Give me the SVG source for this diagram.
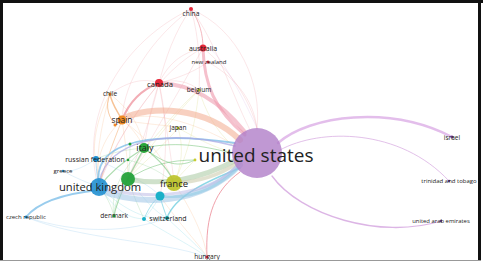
<svg xmlns="http://www.w3.org/2000/svg" width="483" height="264" viewBox="0 0 483 264">
<style>
text{font-family:"Open Sans","Noto Sans","Liberation Sans",sans-serif;fill:#222;text-anchor:middle}
.e{fill:none;stroke-linecap:round}
.f{stroke-width:0.6;opacity:0.35}
.red{stroke:#ec8a96}
.org{stroke:#f4a868}
.blu{stroke:#6eb6e6}
.grn{stroke:#6cc070}
.yel{stroke:#cfd060}
.cyn{stroke:#5cc8dc}
.pur{stroke:#d6a8e0}
.lav{stroke:#aaa6e2}
.sm{font-size:6.5px}
</style>
<rect x="0" y="0" width="483" height="264" fill="#fff"/>
<g id="connectors">
<path class="e f red" d="M191,9 C240,30 262,85 257,128"/>
<path class="e f red" d="M191,9 C125,40 80,110 97,182"/>
<path class="e f red" d="M191,9 C175,30 165,60 159,83"/>
<path class="e f red" d="M191,9 C150,40 125,80 122,118"/>
<path class="e f red" d="M191,9 C215,40 230,90 250,130"/>
<path class="e f red" d="M191,9 C200,40 200,70 199,90"/>
<path class="e f red" d="M208,62 C240,80 255,105 257,130"/>
<path class="e f red" d="M203,48 C230,70 250,100 257,128"/>
<path class="e f red" d="M203,48 C160,70 120,130 99,185"/>
<path class="e f red" d="M203,48 C180,90 150,140 128,179"/>
<path class="e f red" d="M159,83 C150,120 140,150 128,179"/>
<path class="e f red" d="M159,83 C130,120 105,160 99,187"/>
<path class="e f red" d="M159,83 C165,120 172,160 174,183"/>
<path class="e f red" d="M159,83 C150,110 147,130 144,148"/>
<path class="e f red" d="M159,83 C170,60 185,52 203,48"/>
<path class="e f red" d="M159,83 C175,78 190,82 199,90"/>
<path class="e f red" d="M110,94 C130,80 145,78 159,83"/>
<path class="e f red" d="M159,83 C170,130 165,170 160,196"/>
<path class="e f red" d="M208,62 C190,75 170,80 159,83"/>
<path class="e f org" d="M122,120 C100,140 95,165 99,185"/>
<path class="e f org" d="M122,120 C125,140 128,160 128,179"/>
<path class="e f org" d="M122,120 C135,130 140,140 144,148"/>
<path class="e f org" d="M122,120 C150,140 165,160 174,183"/>
<path class="e f org" d="M122,120 C150,125 170,125 178,128"/>
<path class="e f org" d="M110,94 C95,120 92,150 96,159"/>
<path class="e f org" d="M110,94 C130,110 140,125 144,148"/>
<path class="e f org" d="M110,94 C100,130 95,160 99,185"/>
<path class="e f org" d="M122,120 C150,110 190,120 235,145"/>
<path class="e f yel" d="M199,90 C205,110 215,130 232,145"/>
<path class="e f yel" d="M199,90 C195,130 185,160 174,183"/>
<path class="e f yel" d="M199,90 C175,110 155,140 144,148"/>
<path class="e f yel" d="M199,90 C170,120 140,160 128,179"/>
<path class="e f yel" d="M178,128 C185,150 180,170 174,183"/>
<path class="e f yel" d="M178,128 C200,140 215,148 232,152"/>
<path class="e f yel" d="M178,128 C160,150 140,165 128,179"/>
<path class="e f yel" d="M195,160 C185,170 180,175 174,183"/>
<path class="e f grn" d="M144,148 C120,170 110,195 114,216"/>
<path class="e f grn" d="M128,179 C118,195 114,205 114,216"/>
<path class="e f grn" d="M128,179 C135,200 140,210 144,219"/>
<path class="e f grn" d="M130,144 C130,160 129,170 128,179"/>
<path class="e f grn" d="M128,160 C150,165 165,175 174,183"/>
<path class="e f grn" d="M144,148 C120,150 105,155 96,159"/>
<path class="e f grn" d="M99,187 C110,200 112,210 114,216"/>
<path class="e f blu" d="M99,187 C80,180 70,175 63,171"/>
<path class="e f blu" d="M96,159 C80,170 70,172 63,171"/>
<path class="e f blu" d="M26,217 C80,235 130,232 167,218"/>
<path class="e f blu" d="M26,217 C80,240 160,240 207,257"/>
<path class="e f cyn" d="M144,219 C170,235 195,248 207,257"/>
<path class="e f cyn" d="M167,218 C185,235 200,248 207,257"/>
<path class="e f org" d="M160,196 C180,225 200,245 207,257"/>
<path class="e f org" d="M174,183 C195,215 205,240 207,257"/>
<path class="e f cyn" d="M99,187 C120,215 130,218 144,219"/>
<path class="e f cyn" d="M99,187 C130,215 150,220 167,218"/>
<path class="e f cyn" d="M160,196 C155,205 150,212 144,219"/>
<path class="e f cyn" d="M128,179 C145,200 155,212 167,218"/>
<path class="e f blu" d="M96,159 C130,175 150,185 160,196"/>
<path class="e f pur" d="M257,128 C230,70 210,40 203,48"/>
<path class="e red" stroke-width="1" opacity="0.6" d="M191,9 C200,22 203,35 203,48"/>
<path class="e red" stroke-width="2" opacity="0.7" d="M159,83 C140,90 128,105 122,120"/>
<path class="e org" stroke-width="1.4" opacity="0.7" d="M110,94 C112,105 118,112 122,120"/>
<path class="e org" stroke-width="1" opacity="0.6" d="M110,94 C104,108 110,118 115,125"/>
<path class="e org" stroke-width="1" opacity="0.5" d="M122,120 C112,145 105,165 99,185"/>
<path class="e grn" stroke-width="1.4" opacity="0.6" d="M144,148 C138,160 132,170 128,179"/>
<path class="e grn" stroke-width="1.2" opacity="0.55" d="M144,148 C160,160 170,172 174,183"/>
<path class="e grn" stroke-width="1.2" opacity="0.55" d="M144,148 C125,160 108,175 99,187"/>
<path class="e grn" stroke-width="1.2" opacity="0.55" d="M128,179 C120,195 116,205 114,216"/>
<path class="e grn" stroke-width="1" opacity="0.5" d="M144,148 C180,140 210,148 232,153"/>
<path class="e grn" stroke-width="1" opacity="0.5" d="M128,179 C150,165 170,160 195,160"/>
<path class="e grn" stroke-width="1" opacity="0.5" d="M144,148 C160,160 175,170 195,160"/>
<path class="e cyn" stroke-width="1.4" opacity="0.7" d="M167,218 C175,195 210,180 240,168"/>
<path class="e cyn" stroke-width="1" opacity="0.6" d="M160,196 C162,205 165,212 167,218"/>
<path class="e cyn" stroke-width="1" opacity="0.5" d="M144,219 C150,205 155,200 160,196"/>
<path class="e blu" stroke-width="1.8" opacity="0.7" d="M99,185 C93,150 130,128 235,143"/>
<path class="e lav" stroke-width="1.4" opacity="0.7" d="M99,187 C100,150 150,124 235,146"/>
<path class="e blu" stroke-width="1.8" opacity="0.7" d="M99,190 C70,193 40,200 26,217"/>
<path class="e blu" stroke-width="1" opacity="0.5" d="M99,187 C97,175 96,168 96,159"/>
<path class="e red" stroke-width="1" opacity="0.8" d="M207,257 C205,215 215,190 240,172"/>
<path class="e pur" stroke-width="0.9" opacity="0.8" d="M280,150 C320,128 400,128 449,181"/>
<path class="e pur" stroke-width="1.3" opacity="0.85" d="M272,176 C300,215 380,240 441,221"/>
<path class="e" stroke="#f3b096" stroke-width="6" opacity="0.6" d="M122,119 C150,105 205,106 240,140"/>
<path class="e" stroke="#ef9eb0" stroke-width="4" opacity="0.6" d="M160,83 C185,84 215,95 245,132"/>
<path class="e" stroke="#ef9eb0" stroke-width="3" opacity="0.65" d="M203,48 C204,85 215,110 245,135"/>
<path class="e" stroke="#9fc4e6" stroke-width="6" opacity="0.55" d="M99,190 C140,206 200,206 240,165"/>
<path class="e" stroke="#b8b6e4" stroke-width="3" opacity="0.5" d="M99,188 C150,200 210,198 240,163"/>
<path class="e" stroke="#a8c8a0" stroke-width="5" opacity="0.55" d="M128,179 C160,186 200,180 236,160"/>
<path class="e" stroke="#c8c8a8" stroke-width="3.5" opacity="0.55" d="M174,183 C200,182 220,175 237,163"/>
<path class="e" stroke="#8ccbe4" stroke-width="2.5" opacity="0.55" d="M160,196 C190,200 215,190 238,168"/>
<path class="e" stroke="#dcaee6" stroke-width="2.5" opacity="0.8" d="M278,143 C310,115 390,105 452,137"/>
</g>
<g id="n-us"><circle cx="257" cy="153" r="25" fill="#b07ec8" opacity="0.8"/><text x="256" y="162" font-size="19" fill="#111">united states</text></g>
<g id="n-uk"><circle cx="99" cy="187" r="9" fill="#2290d0" opacity="0.9"/><text x="100" y="191" font-size="11.2">united kingdom</text></g>
<g id="n-germany"><circle cx="128" cy="179" r="7" fill="#23a13a" opacity="0.95"/></g>
<g id="n-france"><circle cx="174" cy="183" r="8" fill="#bcc226" opacity="0.9"/><text x="174" y="186.5" font-size="9.5">france</text></g>
<g id="n-italy"><circle cx="144" cy="148" r="5" fill="#2aa63a"/><text x="145" y="151" font-size="9">italy</text></g>
<g id="n-netherlands"><circle cx="160" cy="196" r="4.5" fill="#1ab0c8"/></g>
<g id="n-spain"><circle cx="122" cy="120" r="4.5" fill="#f08a24"/><circle cx="115" cy="125" r="1.5" fill="#f08a24"/><text x="122" y="122.5" font-size="8.4">spain</text></g>
<g id="n-canada"><circle cx="159" cy="83" r="4" fill="#e5283a"/><text x="160" y="86.5" font-size="7.7">canada</text></g>
<g id="n-australia"><circle cx="203" cy="48" r="3.5" fill="#e5283a"/><text x="203" y="50.5" font-size="7">australia</text></g>
<g id="n-china"><circle cx="191" cy="9" r="2" fill="#e5283a"/><text x="191" y="16.3" font-size="6.7">china</text></g>
<g id="n-newzealand"><circle cx="208" cy="62" r="1.5" fill="#e5283a"/><text x="209" y="64" font-size="6">new zealand</text></g>
<g id="n-belgium"><circle cx="199" cy="90" r="1.6" fill="#b9c11c"/><text x="199" y="91.5" class="sm">belgium</text></g>
<g id="n-chile"><circle cx="110" cy="94" r="1.6" fill="#f08a24"/><text x="110" y="96" font-size="6.6">chile</text></g>
<g id="n-japan"><circle cx="178" cy="128" r="1.5" fill="#b9c11c"/><text x="178" y="129.5" class="sm">japan</text></g>
<g id="n-russia"><circle cx="96" cy="159" r="3" fill="#1e90d2"/><text x="95" y="161.5" font-size="7">russian federation</text></g>
<g id="n-greece"><circle cx="63" cy="171" r="1.2" fill="#1e90d2"/><text x="63" y="173" font-size="6.1">greece</text></g>
<g id="n-czech"><circle cx="26" cy="217" r="1.5" fill="#1e90d2"/><text x="26" y="219" font-size="6">czech republic</text></g>
<g id="n-denmark"><circle cx="114" cy="216" r="1.6" fill="#23a13a"/><text x="114" y="218.3" font-size="6.6">denmark</text></g>
<g id="n-switzerland"><circle cx="144" cy="219" r="2" fill="#1ab0c8"/><circle cx="167" cy="218" r="2" fill="#12a0a8"/><text x="168" y="220.5" font-size="7">switzerland</text></g>
<g id="n-greensmall"><circle cx="130" cy="144" r="1.5" fill="#23a13a"/><circle cx="128" cy="160" r="1.2" fill="#23a13a"/><circle cx="195" cy="160" r="1.4" fill="#c8cc30"/></g>
<g id="n-hungary"><circle cx="207" cy="257" r="1.5" fill="#e5283a"/><text x="207" y="259" font-size="6.7">hungary</text></g>
<g id="n-israel"><circle cx="452" cy="137" r="1.5" fill="#6a3a8a"/><text x="452" y="139.5" class="sm" fill="#333">israel</text></g>
<g id="n-trinidad"><circle cx="449" cy="181" r="1.2" fill="#6a3a8a"/><text x="449" y="183" font-size="6" fill="#444">trinidad and tobago</text></g>
<g id="n-uae"><circle cx="441" cy="221" r="1.2" fill="#6a3a8a"/><text x="441" y="223" font-size="5.9" fill="#444">united arab emirates</text></g>
<g id="frame">
<line x1="0" y1="1.5" x2="483" y2="1.5" stroke="#111" stroke-width="3"/>
<line x1="1.5" y1="0" x2="1.5" y2="261" stroke="#111" stroke-width="3"/>
<line x1="479.5" y1="0" x2="479.5" y2="261" stroke="#111" stroke-width="3"/>
<line x1="0" y1="260.5" x2="481" y2="260.5" stroke="#999" stroke-width="1"/>
</g>
</svg>
